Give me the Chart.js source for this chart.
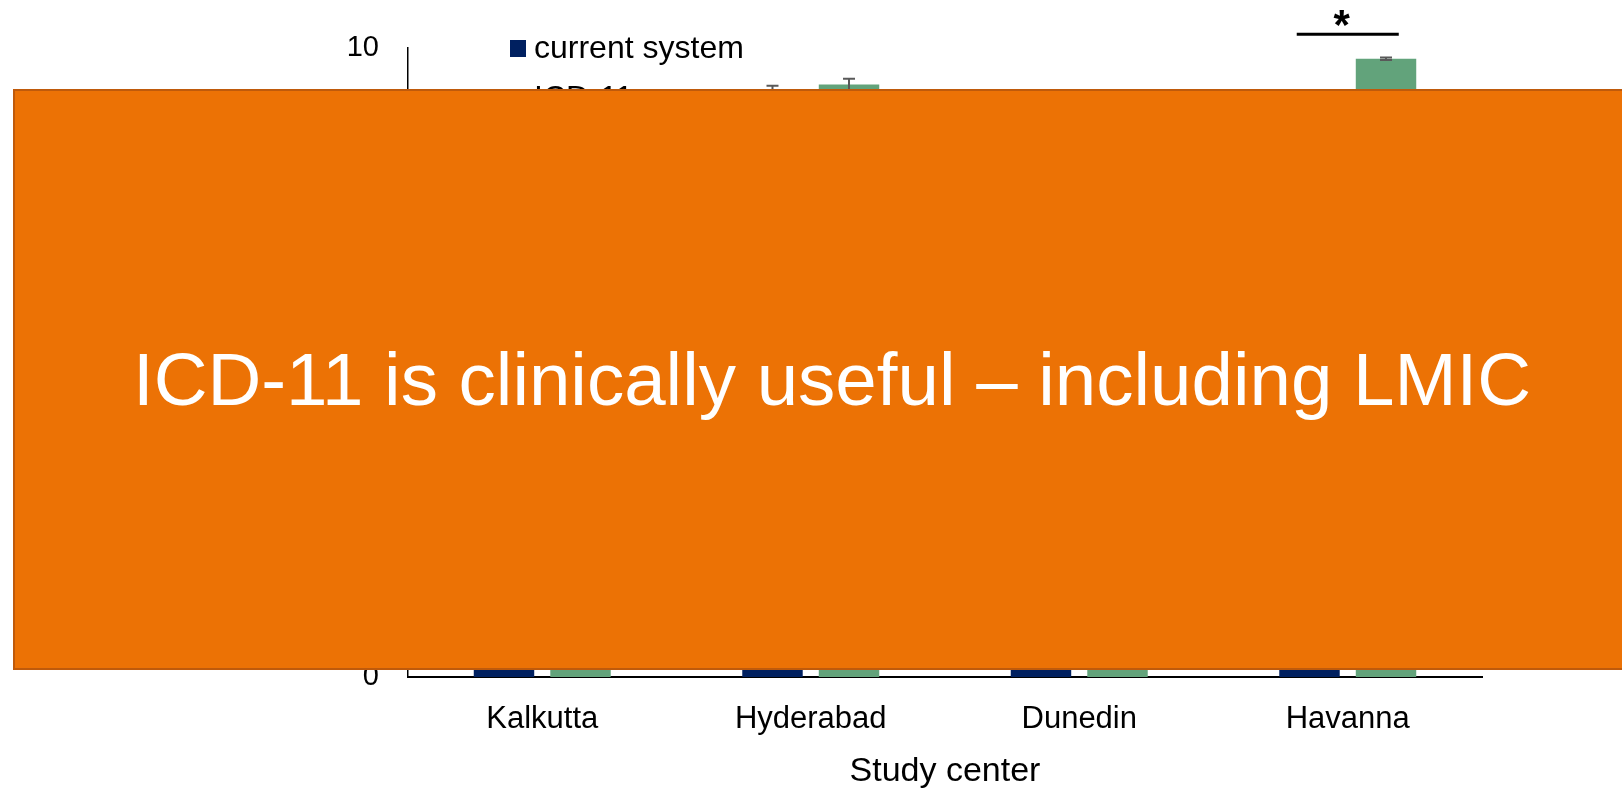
<!DOCTYPE html>
<html>
<head>
<meta charset="utf-8">
<script src="https://cdn.jsdelivr.net/npm/chart.js@4"></script>
<style>
  html, body { margin: 0; padding: 0; background: #fff; overflow: hidden; }
  #wrap { position: relative; width: 1622px; height: 792px; }
  #overlay {
    position: absolute; left: 13px; top: 89px; width: 1634px; height: 577px;
    background: #EC7205; border: 2px solid #BF5A0B;
    display: flex; align-items: center; justify-content: center;
    color: #fff; font-family: "Liberation Sans", Arial, sans-serif; font-size: 74.5px;
    white-space: nowrap;
  }
</style>
</head>
<body>
<div id="wrap">
  <canvas id="usefulChart" width="1622" height="792"></canvas>
  <div id="overlay">ICD-11 is clinically useful – including LMIC</div>
</div>
<script>
const centers = ['Kalkutta', 'Hyderabad', 'Dunedin', 'Havanna'];
const currentSystem = [8.6, 9.28, 8.4, 8.9];
const currentErr = [0.15, 0.12, 0.15, 0.1];
const icd11 = [9.0, 9.42, 8.9, 9.83];
const icd11Err = [0.15, 0.09, 0.15, 0.02];
const yTicks = [0, 2, 4, 6, 8, 10];
const sigIndex = [3];
const sigLabel = ['*'];

const font = '"Liberation Sans", Arial, sans-serif';

// error bars on top of each bar
const errorBars = {
    id: 'errorBars',
    afterDatasetsDraw(chart) {
        const ctx = chart.ctx;
        const y = chart.scales.y;
        ctx.save();
        ctx.strokeStyle = '#595959';
        ctx.lineWidth = 2;
        chart.data.datasets.forEach((ds, di) => {
            chart.getDatasetMeta(di).data.forEach((bar, i) => {
                const v = ds.data[i], e = ds.errors[i];
                const top = y.getPixelForValue(v + e);
                const bot = y.getPixelForValue(v - e);
                ctx.beginPath();
                ctx.moveTo(bar.x, top); ctx.lineTo(bar.x, bot);
                ctx.moveTo(bar.x - 6, top); ctx.lineTo(bar.x + 6, top);
                ctx.moveTo(bar.x - 6, bot); ctx.lineTo(bar.x + 6, bot);
                ctx.stroke();
            });
        });
        ctx.restore();
    }
};

// significance bracket + star
const sigMarks = {
    id: 'sigMarks',
    afterDraw(chart) {
        const ctx = chart.ctx;
        const x = chart.scales.x, y = chart.scales.y;
        const cw = (x.right - x.left) / centers.length;
        ctx.save();
        sigIndex.forEach((idx, k) => {
            const cx = x.getPixelForValue(idx);
            const ly = y.getPixelForValue(10.22);
            ctx.strokeStyle = '#000';
            ctx.lineWidth = 3;
            ctx.beginPath();
            ctx.moveTo(cx - cw * 0.19, ly); ctx.lineTo(cx + cw * 0.19, ly);
            ctx.stroke();
            ctx.fillStyle = '#000';
            ctx.font = 'bold 42px ' + font;
            ctx.textAlign = 'center';
            ctx.textBaseline = 'alphabetic';
            ctx.fillText(sigLabel[k], cx - 6, ly + 5);
        });
        ctx.restore();
    }
};

// legend inside the plot area, stacked
const innerLegend = {
    id: 'innerLegend',
    afterDraw(chart) {
        const ctx = chart.ctx;
        const a = chart.chartArea;
        ctx.save();
        ctx.font = '32px ' + font;
        ctx.textBaseline = 'alphabetic';
        ctx.textAlign = 'left';
        chart.data.datasets.forEach((ds, i) => {
            const base = a.top + 10 + i * 50;
            ctx.fillStyle = ds.backgroundColor;
            ctx.fillRect(a.left + 102, base - 18, 16, 17);
            ctx.fillStyle = '#000';
            ctx.fillText(ds.label, a.left + 126, base);
        });
        ctx.restore();
    }
};

new Chart(document.getElementById('usefulChart'), {
    type: 'bar',
    data: {
        labels: centers,
        datasets: [{
            label: 'current system',
            data: currentSystem,
            errors: currentErr,
            backgroundColor: '#002060',
            categoryPercentage: 0.57,
            barPercentage: 0.79
        }, {
            label: 'ICD-11',
            data: icd11,
            errors: icd11Err,
            backgroundColor: '#62A37B',
            categoryPercentage: 0.57,
            barPercentage: 0.79
        }]
    },
    options: {
        responsive: false,
        animation: false,
        layout: { padding: { top: 48, right: 140, left: 0, bottom: 0 } },
        plugins: { legend: { display: false }, tooltip: { enabled: false } },
        scales: {
            x: {
                grid: { display: false, drawTicks: false },
                border: { display: true, color: '#000', width: 2 },
                ticks: { color: '#000', font: { family: font, size: 31 }, padding: 24 },
                title: { display: true, text: 'Study center', color: '#000', font: { family: font, size: 34 }, padding: { top: 22, bottom: 0 } },
                afterFit(s) { s.height = 115; }
            },
            y: {
                min: 0, max: 10,
                afterBuildTicks(s) { s.ticks = yTicks.map(v => ({ value: v })); },
                grid: { display: false, drawTicks: false },
                border: { display: true, color: '#000', width: 1.5 },
                ticks: { color: '#000', font: { family: font, size: 29 }, padding: 29 },
                afterFit(s) { s.width = 408; }
            }
        }
    },
    plugins: [errorBars, sigMarks, innerLegend]
});
</script>
</body>
</html>
